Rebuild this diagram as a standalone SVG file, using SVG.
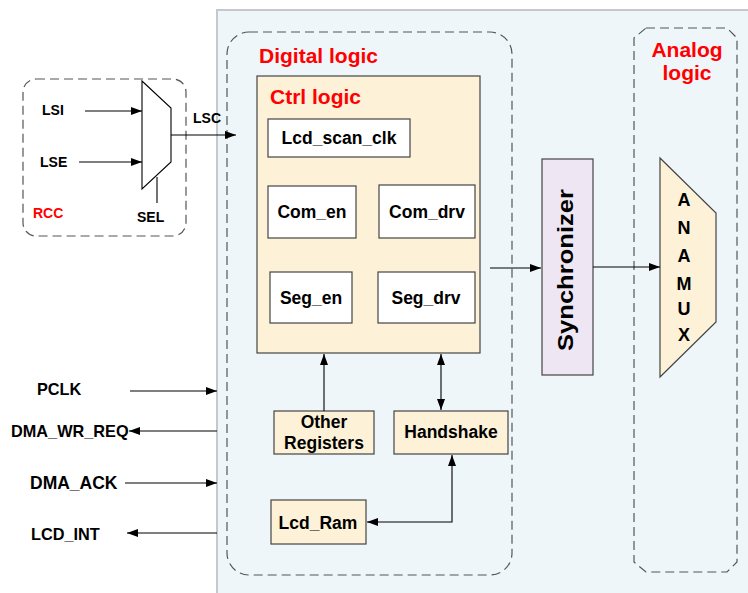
<svg xmlns="http://www.w3.org/2000/svg" width="748" height="593" viewBox="0 0 748 593">
<style>
text{font-family:"Liberation Sans",Arial,sans-serif;font-weight:bold;fill:#000}
.red{fill:#ff0000}
.dash{fill:none;stroke:#555;stroke-width:1.2;stroke-dasharray:9,5}
.box{fill:#fff;stroke:#444;stroke-width:1.2}
.beige{fill:#fdf2d8;stroke:#444;stroke-width:1.2}
.ln{fill:none;stroke:#000;stroke-width:1.1}
.lbl{font-size:17.5px}
.sig{font-size:16.3px}
.sm{font-size:14px}
</style>
<defs>
<marker id="ah" markerUnits="userSpaceOnUse" markerWidth="12" markerHeight="10" refX="11" refY="4" orient="auto-start-reverse" viewBox="0 0 12 8">
<path d="M0,0 L11,4 L0,8 Z" fill="#000"/>
</marker>
</defs>
<rect id="panel" x="217" y="10" width="540" height="600" fill="#eff6fa" stroke="#c5c9cc" stroke-width="2"/>

<g id="rcc">
<rect x="23" y="79" width="163" height="157" rx="13" class="dash"/>
<text x="33" y="218" class="sm red">RCC</text>
</g>
<g id="mux">
<path d="M142,81 L171,108 L171,162 L142,189 Z" fill="#fff" stroke="#000" stroke-width="1.1"/>
</g>
<text x="42" y="115" class="sm">LSI</text>
<text x="40" y="167" class="sm">LSE</text>
<text x="137" y="222" class="sm">SEL</text>
<text x="193" y="123" class="sm">LSC</text>

<g id="digital">
<rect x="227" y="32" width="285" height="543" rx="22" class="dash"/>
<text x="259" y="63" class="red" font-size="21">Digital logic</text>
</g>
<g id="ctrl">
<rect x="257" y="76" width="223" height="277" class="beige"/>
<text x="270" y="104" class="red" font-size="21">Ctrl logic</text>
</g>
<g id="lcd_scan_clk">
<rect x="268" y="119" width="142" height="38" class="box"/>
<text x="339" y="144" class="lbl" text-anchor="middle">Lcd_scan_clk</text>
</g>
<g id="com_en">
<rect x="268" y="186" width="88" height="52" class="box"/>
<text x="312" y="218" class="lbl" text-anchor="middle">Com_en</text>
</g>
<g id="com_drv">
<rect x="379" y="185" width="96" height="53" class="box"/>
<text x="427" y="218" class="lbl" text-anchor="middle">Com_drv</text>
</g>
<g id="seg_en">
<rect x="270" y="272" width="82" height="51" class="box"/>
<text x="311" y="304" class="lbl" text-anchor="middle">Seg_en</text>
</g>
<g id="seg_drv">
<rect x="378" y="272" width="97" height="51" class="box"/>
<text x="426" y="304" class="lbl" text-anchor="middle">Seg_drv</text>
</g>
<g id="other_registers">
<rect x="274" y="411" width="100" height="43" class="beige"/>
<text x="324" y="428" class="lbl" text-anchor="middle">Other</text>
<text x="324" y="449" class="lbl" text-anchor="middle">Registers</text>
</g>
<g id="handshake">
<rect x="394" y="411" width="114" height="43" class="beige"/>
<text x="451" y="438" class="lbl" text-anchor="middle">Handshake</text>
</g>
<g id="lcd_ram">
<rect x="271" y="500" width="95" height="44" class="beige"/>
<text x="318" y="529" class="lbl" text-anchor="middle">Lcd_Ram</text>
</g>
<g id="synchronizer">
<rect x="542" y="159" width="51" height="216" fill="#efe6f3" stroke="#444" stroke-width="1.2"/>
<text transform="translate(573,270) rotate(-90)" text-anchor="middle" font-size="22.5" textLength="162" lengthAdjust="spacingAndGlyphs">Synchronizer</text>
</g>
<g id="analog">
<path d="M646,28 H727 L737,38 V562 L727,572 H646 L634,562 V38 Z" class="dash"/>
<text x="687" y="57" class="red" font-size="21" text-anchor="middle">Analog</text>
<text x="687" y="80" class="red" font-size="21" text-anchor="middle">logic</text>
</g>
<g id="anamux">
<path d="M660,158 L716,213 L716,322 L660,377 Z" fill="#fdf2d8" stroke="#444" stroke-width="1.2"/>
<g font-size="18" text-anchor="middle">
<text x="684" y="206">A</text>
<text x="684" y="234">N</text>
<text x="684" y="262">A</text>
<text x="684" y="290">M</text>
<text x="684" y="315">U</text>
<text x="684" y="341">X</text>
</g>
</g>

<text x="37" y="395" class="sig">PCLK</text>
<text x="11" y="437" class="sig">DMA_WR_REQ</text>
<text x="30" y="489" font-size="17.5">DMA_ACK</text>
<text x="31" y="540" class="sig">LCD_INT</text>

<g id="connectors">
<path d="M85,111 H142" class="ln" marker-end="url(#ah)"/>
<path d="M79,162 H142" class="ln" marker-end="url(#ah)"/>
<path d="M157,177 V203" class="ln"/>
<path d="M171,135 H236" class="ln" marker-end="url(#ah)"/>
<path d="M490,268 H541" class="ln" marker-end="url(#ah)"/>
<path d="M593,267 H660" class="ln" marker-end="url(#ah)"/>
<path d="M324,411 V354" class="ln" marker-end="url(#ah)"/>
<path d="M441,354 V410" class="ln" marker-start="url(#ah)" marker-end="url(#ah)"/>
<path d="M452,455 V522 H367" class="ln" marker-start="url(#ah)" marker-end="url(#ah)"/>
<path d="M130,391 H217" class="ln" marker-end="url(#ah)"/>
<path d="M217,431 H129" class="ln" marker-end="url(#ah)"/>
<path d="M125,483 H217" class="ln" marker-end="url(#ah)"/>
<path d="M217,533 H127" class="ln" marker-end="url(#ah)"/>
</g>
</svg>
